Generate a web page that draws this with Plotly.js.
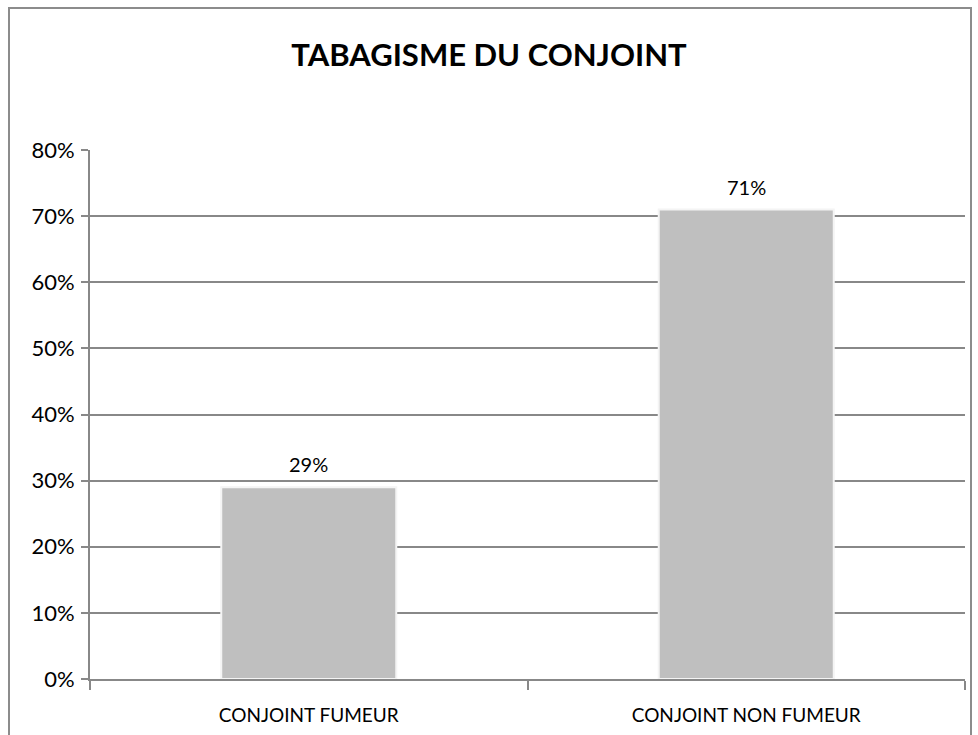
<!DOCTYPE html>
<html>
<head>
<meta charset="utf-8">
<script src="https://cdn.plot.ly/plotly-3.0.1.min.js"></script>
<style>
  html, body { margin: 0; padding: 0; background: #fff; overflow: hidden; }
  #wrap { position: relative; width: 978px; height: 735px; }
  #chart { position: absolute; left: 0; top: 0; width: 978px; height: 735px; }
  #frame { position: absolute; left: 8px; top: 7px; width: 960px; height: 740px;
           border: 2px solid #8c8c8c; pointer-events: none; }
</style>
</head>
<body>
<div id="wrap">
  <div id="chart"></div>
  <div id="frame"></div>
</div>
<script>
const categories = ["CONJOINT FUMEUR", "CONJOINT NON FUMEUR"];
const values = [0.29, 0.71];
const valueLabels = ["29%", "71%"];
const chartTitle = "TABAGISME DU CONJOINT";

const fontFam = "Lato, 'Open Sans', sans-serif";

const trace = {
  type: "bar",
  x: categories,
  y: values,
  width: 0.4,
  marker: { color: "#bfbfbf", line: { color: "#f4f4f4", width: 2 } },
  hoverinfo: "none"
};

const annotations = categories.map((c, i) => ({
  x: c, y: values[i], xref: "x", yref: "y",
  text: valueLabels[i], showarrow: false,
  yanchor: "bottom", yshift: 9,
  font: { family: fontFam, size: 20, color: "#000" }
}));

const layout = {
  width: 978, height: 735,
  margin: { l: 90, r: 13, t: 150, b: 56 },
  paper_bgcolor: "#fff", plot_bgcolor: "#fff",
  showlegend: false,
  title: {
    text: "<b>" + chartTitle + "</b>",
    x: 0.5, xanchor: "center", y: 0.925, yanchor: "middle", yref: "container",
    font: { family: fontFam, size: 31, color: "#000" }
  },
  xaxis: {
    type: "category",
    showgrid: false,
    showline: true, linecolor: "#888", linewidth: 2,
    ticks: "outside", tickson: "boundaries", ticklen: 9, tickcolor: "#888", tickwidth: 2,
    tickfont: { family: fontFam, size: 19, color: "#000" },
    ticklabelstandoff: 18,
    zeroline: false
  },
  yaxis: {
    range: [0, 0.8],
    dtick: 0.1, tick0: 0,
    tickformat: ".0%",
    showgrid: true, gridcolor: "#888", gridwidth: 2,
    showline: true, linecolor: "#888", linewidth: 2,
    ticks: "outside", ticklen: 7, tickcolor: "#888", tickwidth: 2,
    tickfont: { family: fontFam, size: 22, color: "#000" },
    ticklabelstandoff: 2,
    zeroline: false
  },
  annotations: annotations,
  bargap: 0.6
};

Plotly.newPlot("chart", [trace], layout, { displayModeBar: false, staticPlot: true });
</script>
</body>
</html>
